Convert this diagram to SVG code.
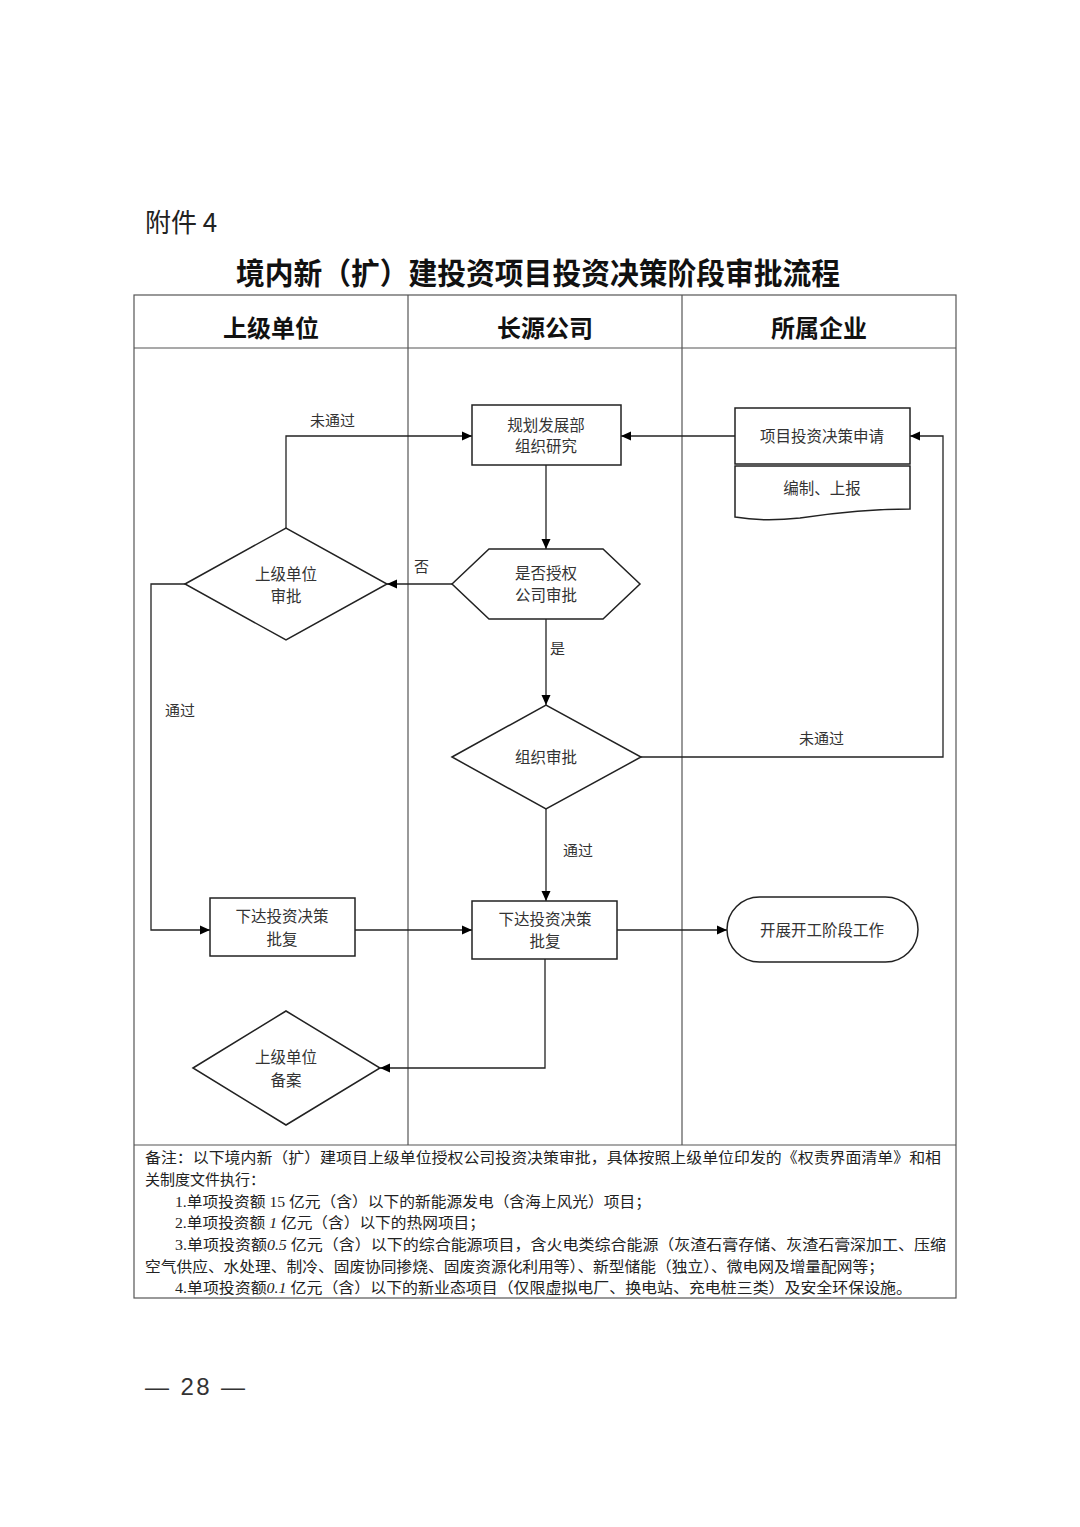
<svg xmlns="http://www.w3.org/2000/svg" width="1080" height="1527" viewBox="0 0 1080 1527">
<defs>
<marker id="arr" viewBox="0 0 10 10" refX="10" refY="5" markerWidth="10" markerHeight="10" markerUnits="userSpaceOnUse" orient="auto">
<path d="M0,0.5 L10,5 L0,9.5 Z" fill="#000"/>
</marker>
<style>
.frame{fill:none;stroke:#555;stroke-width:1.2}
.node{fill:#fff;stroke:#222;stroke-width:1.5}
.conn{fill:none;stroke:#222;stroke-width:1.3}
.nt{font-family:"Liberation Serif","Noto Sans CJK SC",serif;font-size:15.5px;fill:#333;text-anchor:middle}
.lb{font-family:"Liberation Serif","Noto Sans CJK SC",serif;font-size:15px;fill:#333}
.hd{font-family:"Liberation Sans","Noto Sans CJK SC",sans-serif;font-size:24px;font-weight:700;fill:#111;text-anchor:middle}
.note{font-family:"Liberation Serif","Noto Sans CJK SC",serif;font-size:15px;fill:#222}
</style>
</defs>
<rect width="1080" height="1527" fill="#fff"/>
<text x="145" y="232" font-family="'Noto Sans CJK SC',sans-serif" font-size="26" fill="#222">附件 4</text>
<text x="236" y="284" font-family="'Noto Sans CJK SC',sans-serif" font-size="30" font-weight="700" fill="#111" textLength="604" lengthAdjust="spacingAndGlyphs">境内新（扩）建投资项目投资决策阶段审批流程</text>
<g id="table">
<rect class="frame" x="134" y="295" width="822" height="1003"/>
<line class="frame" x1="134" y1="348" x2="956" y2="348"/>
<line class="frame" x1="408" y1="295" x2="408" y2="1145"/>
<line class="frame" x1="682" y1="295" x2="682" y2="1145"/>
<line class="frame" x1="134" y1="1145" x2="956" y2="1145"/>
<text class="hd" x="271" y="337">上级单位</text>
<text class="hd" x="545" y="337">长源公司</text>
<text class="hd" x="819" y="337">所属企业</text>
</g>
<g id="connectors">
<path class="conn" d="M735,436 H621" marker-end="url(#arr)"/>
<path class="conn" d="M546,465 V549" marker-end="url(#arr)"/>
<path class="conn" d="M452,584 H387" marker-end="url(#arr)"/>
<path class="conn" d="M286,528 V436 H472" marker-end="url(#arr)"/>
<path class="conn" d="M185,584 H151 V930 H210" marker-end="url(#arr)"/>
<path class="conn" d="M546,619 V705" marker-end="url(#arr)"/>
<path class="conn" d="M641,757 H943 V436 H910" marker-end="url(#arr)"/>
<path class="conn" d="M546,809 V901" marker-end="url(#arr)"/>
<path class="conn" d="M355,930 H472" marker-end="url(#arr)"/>
<path class="conn" d="M617,930 H727" marker-end="url(#arr)"/>
<path class="conn" d="M545,959 V1068 H380" marker-end="url(#arr)"/>
<text class="lb" x="310" y="426">未通过</text>
<text class="lb" x="414" y="572">否</text>
<text class="lb" x="165" y="716">通过</text>
<text class="lb" x="550" y="654">是</text>
<text class="lb" x="799" y="744">未通过</text>
<text class="lb" x="563" y="856">通过</text>
</g>
<g id="n-plan">
<rect class="node" x="472" y="405" width="149" height="60"/>
<text class="nt" x="546" y="431">规划发展部</text>
<text class="nt" x="546" y="452">组织研究</text>
</g>
<g id="n-apply">
<rect class="node" x="735" y="408" width="175" height="56"/>
<text class="nt" x="822" y="442">项目投资决策申请</text>
</g>
<g id="n-compile">
<path class="node" d="M735,466 H910 V509 C870,509 840,512 800,518 C772,521 752,520 735,517 Z"/>
<text class="nt" x="822" y="494">编制、上报</text>
</g>
<g id="n-auth">
<polygon class="node" points="452,584 489,549 603,549 640,584 603,619 489,619"/>
<text class="nt" x="546" y="579">是否授权</text>
<text class="nt" x="546" y="601">公司审批</text>
</g>
<g id="n-upper-approve">
<polygon class="node" points="185,584 286,528 387,584 286,640"/>
<text class="nt" x="286" y="580">上级单位</text>
<text class="nt" x="286" y="602">审批</text>
</g>
<g id="n-org-approve">
<polygon class="node" points="452,757 546,705 641,757 546,809"/>
<text class="nt" x="546" y="763">组织审批</text>
</g>
<g id="n-issue-upper">
<rect class="node" x="210" y="898" width="145" height="58"/>
<text class="nt" x="282" y="922">下达投资决策</text>
<text class="nt" x="282" y="945">批复</text>
</g>
<g id="n-issue">
<rect class="node" x="472" y="901" width="145" height="58"/>
<text class="nt" x="545" y="925">下达投资决策</text>
<text class="nt" x="545" y="947">批复</text>
</g>
<g id="n-start">
<rect class="node" x="727" y="897" width="191" height="65" rx="32.5" ry="32.5"/>
<text class="nt" x="822" y="936">开展开工阶段工作</text>
</g>
<g id="n-filing">
<polygon class="node" points="193,1068 286,1011 380,1068 286,1125"/>
<text class="nt" x="286" y="1063">上级单位</text>
<text class="nt" x="286" y="1086">备案</text>
</g>
<g id="notes">
<text class="note" x="145" y="1163" textLength="796" lengthAdjust="spacingAndGlyphs">备注：以下境内新（扩）建项目上级单位授权公司投资决策审批，具体按照上级单位印发的《权责界面清单》和相</text>
<text class="note" x="145" y="1185">关制度文件执行：</text>
<text class="note" x="175" y="1207" textLength="476" lengthAdjust="spacingAndGlyphs">1.单项投资额 15 亿元（含）以下的新能源发电（含海上风光）项目；</text>
<text class="note" x="175" y="1228" textLength="310" lengthAdjust="spacingAndGlyphs">2.单项投资额 <tspan font-style="italic">1</tspan> 亿元（含）以下的热网项目；</text>
<text class="note" x="175" y="1250" textLength="771" lengthAdjust="spacingAndGlyphs">3.单项投资额<tspan font-style="italic">0.5</tspan> 亿元（含）以下的综合能源项目，含火电类综合能源（灰渣石膏存储、灰渣石膏深加工、压缩</text>
<text class="note" x="145" y="1272" textLength="739" lengthAdjust="spacingAndGlyphs">空气供应、水处理、制冷、固废协同掺烧、固废资源化利用等）、新型储能（独立）、微电网及增量配网等；</text>
<text class="note" x="175" y="1293" textLength="737" lengthAdjust="spacingAndGlyphs">4.单项投资额<tspan font-style="italic">0.1</tspan> 亿元（含）以下的新业态项目（仅限虚拟电厂、换电站、充电桩三类）及安全环保设施。</text>
</g>
<text x="145" y="1395" font-family="'Liberation Sans',sans-serif" font-size="24" fill="#333" textLength="100" lengthAdjust="spacing">— 28 —</text>
</svg>
